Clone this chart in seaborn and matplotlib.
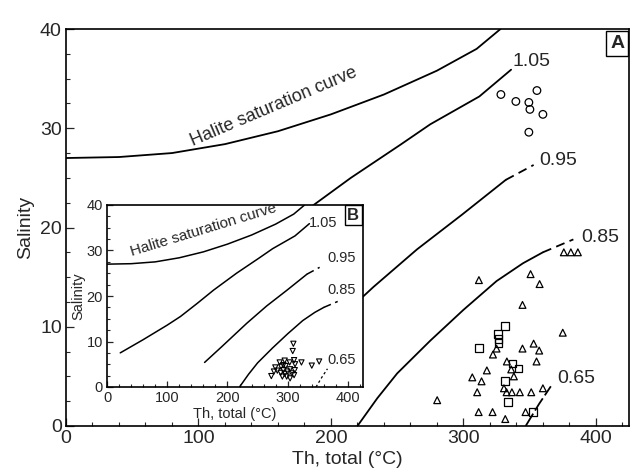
import numpy as np
import pandas as pd
import matplotlib
matplotlib.use("Agg")
import matplotlib.pyplot as plt
from matplotlib.ticker import MultipleLocator
import seaborn as sns

# ---------------- data ----------------
# Isopleth curves (Th total °C vs salinity)
halite_x = [0, 40, 80, 120, 160, 200, 240, 280, 310, 328]
halite_y = [27.0, 27.1, 27.5, 28.4, 29.7, 31.4, 33.4, 35.8, 38.0, 40.0]

c105_x = [22, 60, 100, 122, 150, 177, 215, 252, 275, 312, 336]
c105_y = [7.5, 10.4, 13.6, 15.5, 18.4, 21.3, 25.0, 28.3, 30.4, 33.2, 35.9]

c095_x = [162, 190, 232, 265, 299, 332]
c095_y = [5.4, 8.8, 14.0, 17.8, 21.3, 24.8]
c095_dash_x = [332, 353]
c095_dash_y = [24.8, 26.3]

c085_x = [220, 235, 250, 275, 300, 325, 345, 360]
c085_y = [0.0, 2.8, 5.3, 8.6, 11.7, 14.6, 16.4, 17.5]
c085_dash_x = [360, 383]
c085_dash_y = [17.5, 18.8]

c065_x = [347, 357, 366]
c065_y = [0.0, 2.2, 4.0]

# Main panel (A) data
circ_x = [328.3, 339.6, 349.4, 350.2, 355.5, 360.0, 349.4]
circ_y = [33.4, 32.7, 32.6, 31.9, 33.8, 31.4, 29.6]

tri_x = [311.7, 350.7, 357.5, 344.6, 375.0, 325.0, 322.3, 344.6, 353.0, 357.2,
         355.2, 332.8, 336.1, 338.1, 317.7, 306.7, 313.7, 310.4, 330.6, 332.6,
         336.6, 342.6, 351.2, 360.0, 280.2, 311.5, 322.0, 346.9, 331.6,
         375.8, 381.1, 386.4]
tri_y = [14.7, 15.3, 14.3, 12.2, 9.4, 7.8, 7.2, 7.8, 8.3, 7.6,
         6.5, 6.5, 5.7, 5.0, 5.6, 4.9, 4.5, 3.4, 3.8, 3.4,
         3.4, 3.4, 3.4, 3.8, 2.6, 1.4, 1.4, 1.4, 0.7,
         17.5, 17.5, 17.5]

sq_x = [331.6, 326.0, 326.5, 326.5, 311.5, 337.1, 341.6, 331.6, 333.6, 352.7]
sq_y = [10.1, 9.3, 8.8, 8.4, 7.9, 6.3, 5.8, 4.5, 2.4, 1.4]

# Inset panel (B) data
inv_x = [309.4, 308.3, 310.6, 322.8, 340.0, 352.2, 312.2, 303.3, 303.9, 306.7,
         303.9, 296.7, 295.0, 286.7, 288.9, 279.4, 282.8, 288.3, 292.8, 295.0,
         298.3, 291.1, 272.8, 277.2, 299.4, 292.8, 311.7, 310.6]
inv_y = [9.5, 7.9, 5.9, 5.4, 4.7, 5.6, 5.0, 5.4, 3.9, 3.0,
         1.9, 4.6, 5.8, 5.4, 4.5, 4.3, 3.6, 3.1, 3.7, 2.9,
         2.3, 2.3, 2.4, 3.4, 3.4, 4.8, 3.7, 2.6]

x_ticks = [0, 100, 200, 300, 400]
y_ticks = [0, 10, 20, 30, 40]
curve_labels = ["1.05", "0.95", "0.85", "0.65"]

# ---------------- style ----------------
sns.set_style("ticks")
plt.rcParams["font.family"] = ["Liberation Sans", "DejaVu Sans"]

fig = plt.figure(figsize=(6.3, 4.75), dpi=100)
ax = fig.add_axes([66 / 630, 1 - 426 / 475, (629 - 66) / 630, (426 - 29) / 475])
axi = fig.add_axes([107 / 630, 1 - 387 / 475, (363 - 107) / 630, (387 - 205) / 475])
axi.set_zorder(5)
axi.set_facecolor("white")


def draw_curves(a, lw, start105=0):
    kw = dict(color="black", linewidth=lw, sort=False, estimator=None, ax=a)
    sns.lineplot(x=halite_x, y=halite_y, **kw)
    sns.lineplot(x=c105_x[start105:], y=c105_y[start105:], **kw)
    sns.lineplot(x=c095_x, y=c095_y, **kw)
    sns.lineplot(x=c095_dash_x, y=c095_dash_y, linestyle=(0, (5, 3)), **kw)
    sns.lineplot(x=c085_x, y=c085_y, **kw)
    sns.lineplot(x=c085_dash_x, y=c085_dash_y, linestyle=(0, (5, 3)), **kw)


def style_axes(a, fs, major_len, minor_len):
    a.set_xlim(0, 425)
    a.set_ylim(0, 40)
    a.set_xticks(x_ticks)
    a.set_yticks(y_ticks)
    a.xaxis.set_minor_locator(MultipleLocator(20))
    a.yaxis.set_minor_locator(MultipleLocator(2.5))
    a.tick_params(which="major", direction="in", length=major_len, width=0.9,
                  labelsize=fs, pad=3, top=False, right=False)
    a.tick_params(which="minor", direction="in", length=minor_len, width=0.8,
                  top=False, right=False)
    for s in a.spines.values():
        s.set_visible(True)
        s.set_linewidth(1.2)
        s.set_color("black")


# ---- main panel A ----
draw_curves(ax, 1.3, start105=1)
sns.lineplot(x=c065_x, y=c065_y, color="black", linewidth=1.3, sort=False,
             estimator=None, linestyle=(0, (8, 2)), ax=ax)
sns.scatterplot(x=circ_x, y=circ_y, marker="o", s=30, facecolors="none",
                edgecolor="black", linewidth=0.9, ax=ax, zorder=3)
sns.scatterplot(x=tri_x, y=tri_y, marker="^", s=24, facecolors="none",
                edgecolor="black", linewidth=0.9, ax=ax, zorder=3)
sns.scatterplot(x=sq_x, y=sq_y, marker="s", s=32, facecolors="none",
                edgecolor="black", linewidth=0.9, ax=ax, zorder=3)
style_axes(ax, 14, 6, 3)
ax.set_xlabel("Th, total (°C)", fontsize=14, labelpad=3)
ax.set_ylabel("Salinity", fontsize=14, labelpad=4)

ax.text(157, 32.2, "Halite saturation curve", fontsize=13, rotation=23,
        ha="center", va="center", rotation_mode="anchor")
ax.text(337, 36.7, curve_labels[0], fontsize=14, ha="left", va="center")
ax.text(357.5, 26.8, curve_labels[1], fontsize=14, ha="left", va="center")
ax.text(389, 19.0, curve_labels[2], fontsize=14, ha="left", va="center")
ax.text(371, 4.8, curve_labels[3], fontsize=14, ha="left", va="center")
ax.text(0.992, 0.985, "A", transform=ax.transAxes, fontsize=14, fontweight="bold",
        ha="right", va="top",
        bbox=dict(boxstyle="square,pad=0.2", fc="white", ec="black", lw=1.0))

# ---- inset panel B ----
draw_curves(axi, 1.1)
sns.lineplot(x=c065_x, y=c065_y, color="black", linewidth=0.9, sort=False,
             estimator=None, linestyle=(0, (2, 2)), ax=axi)
sns.scatterplot(x=inv_x, y=inv_y, marker="v", s=14, facecolors="none",
                edgecolor="black", linewidth=0.8, ax=axi, zorder=3)
style_axes(axi, 10.5, 4, 2)
axi.set_xlabel("Th, total (°C)", fontsize=10.5, labelpad=1)
axi.set_ylabel("Salinity", fontsize=10.5, labelpad=1)
axi.text(160, 34.6, "Halite saturation curve", fontsize=11, rotation=17,
         ha="center", va="center", rotation_mode="anchor")
axi.text(335, 36.0, curve_labels[0], fontsize=10.5, ha="left", va="center")
axi.text(366, 28.4, curve_labels[1], fontsize=10.5, ha="left", va="center")
axi.text(366, 21.3, curve_labels[2], fontsize=10.5, ha="left", va="center")
axi.text(366, 5.9, curve_labels[3], fontsize=10.5, ha="left", va="center")
axi.text(0.985, 0.985, "B", transform=axi.transAxes, fontsize=12, fontweight="bold",
         ha="right", va="top",
         bbox=dict(boxstyle="square,pad=0.15", fc="white", ec="black", lw=1.0))

fig.savefig("out.png", dpi=100)
